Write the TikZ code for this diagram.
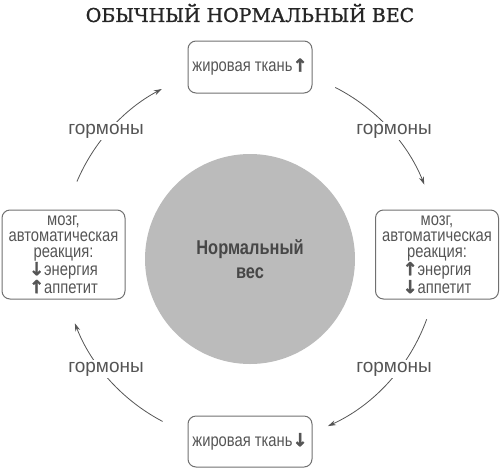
\documentclass[tikz,border=0pt]{standalone}
\usepackage{fontspec}
\setmainfont{Liberation Sans}
\newfontfamily\narrowf[FakeStretch=0.82]{Liberation Sans}
\newfontfamily\titlef[FakeBold=1.2]{DejaVu Serif}
\newfontfamily\arrf[FakeBold=1.5]{DejaVu Sans Bold}
\usetikzlibrary{arrows.meta,calc}
\definecolor{txtgray}{HTML}{555555}
\definecolor{boxgray}{HTML}{707070}
\definecolor{arcgray}{HTML}{555555}
\definecolor{ballgray}{HTML}{BBBBBB}
\newcommand{\upar}{{\arrf\char"2191}}
\newcommand{\dnar}{{\arrf\char"2193}}
\begin{document}
\begin{tikzpicture}[x=1pt,y=-1pt,
  stagebox/.style={draw=boxgray,line width=1pt,rounded corners=8pt,text=txtgray,
    align=center,inner sep=2pt,font={\narrowf\fontsize{18}{16}\selectfont}},
  hormlabel/.style={fill=white,text=txtgray,inner sep=2pt,font={\fontsize{19}{22}\selectfont}},
  cyclearc/.style={draw=arcgray,line width=0.8pt,-{Stealth[length=8pt,width=5pt]}}]
\useasboundingbox (0,0) rectangle (500,469);
\node[text=black!85,font={\titlef\fontsize{19}{22}\selectfont}] (title) at (250,13) {ОБЫЧНЫЙ НОРМАЛЬНЫЙ ВЕС};
\coordinate (c) at (250,255);
\node[circle,fill=ballgray,minimum size=210pt,inner sep=0pt,text=black!72,align=center,
  font={\narrowf\bfseries\fontsize{20}{24}\selectfont}] (w) at (250,259) {Нормальный\\вес};
\node[stagebox,minimum width=124pt,minimum height=52pt] (top) at (250,67) {жировая ткань\upar};
\node[stagebox,minimum width=123pt,minimum height=89pt] (right) at (437,254.5)
  {мозг,\\автоматическая\\реакция:\\\upar энергия\\\dnar аппетит};
\node[stagebox,minimum width=124pt,minimum height=51pt] (bottom) at (250,441.5) {жировая ткань\dnar};
\node[stagebox,minimum width=123pt,minimum height=89pt] (left) at (63.5,254.5)
  {мозг,\\автоматическая\\реакция:\\\dnar энергия\\\upar аппетит};
% arcs between the stages
\draw[cyclearc] ($(c)+(203:188)$) coordinate (a1) arc[start angle=203,end angle=242,radius=188];
\draw[cyclearc] ($(c)+(297:188)$) coordinate (a2) arc[start angle=297,end angle=338,radius=188];
\draw[cyclearc] ($(c)+(20:188)$) coordinate (a3) arc[start angle=20,end angle=65.5,radius=188];
\draw[cyclearc] ($(c)+(117.7:188)$) coordinate (a4) arc[start angle=117.7,end angle=158.7,radius=188];
\node[hormlabel] (h1) at (106,131) {гормоны};
\node[hormlabel] (h2) at (394,131) {гормоны};
\node[hormlabel] (h3) at (394,369) {гормоны};
\node[hormlabel] (h4) at (106,369) {гормоны};
\end{tikzpicture}
\end{document}
